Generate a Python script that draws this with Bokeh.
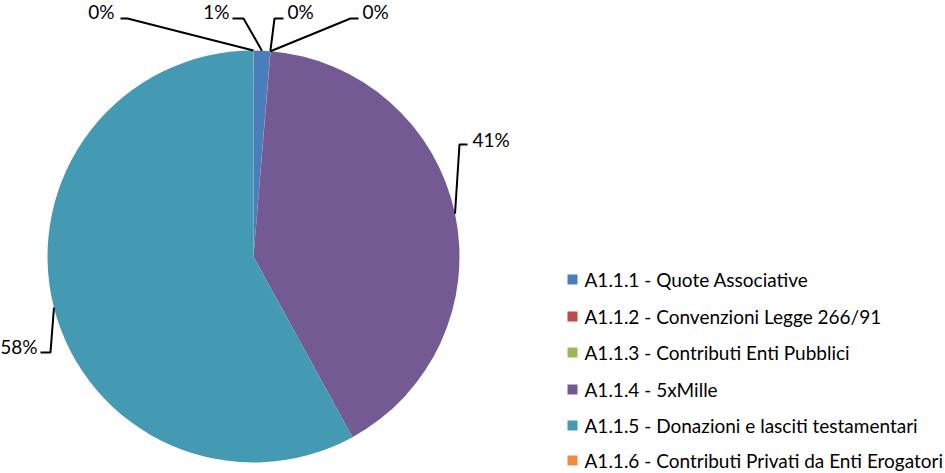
import math
from bokeh.plotting import figure
from bokeh.models import Range1d, ColumnDataSource
from bokeh.core.properties import value
from bokeh.embed import file_html
from bokeh.resources import INLINE

# ---- data ----
categories = [
    "A1.1.1 - Quote Associative",
    "A1.1.2 - Convenzioni Legge 266/91",
    "A1.1.3 - Contributi Enti Pubblici",
    "A1.1.4 - 5xMille",
    "A1.1.5 - Donazioni e lasciti testamentari",
    "A1.1.6 - Contributi Privati da Enti Erogatori",
]
values = [1.3, 0.01, 0.01, 40.7, 57.97, 0.01]
colors = ["#4a7ebb", "#be4b48", "#98b954", "#745a92", "#4499b3", "#f08c3f"]

# ---- layout / style (pixel coords, y measured from top) ----
W, H = 945, 473
CX, CY, R = 253, 256, 206
FONT = "Lato"
FS = "19px"
# per label: (elbow x, elbow y, end x, end y, text x, text y, align)
label_layout = [
    (243, 18, 232, 18, 229, 11, "right"),
    (274, 18, 283, 18, 287, 11, "left"),
    (350, 18, 358, 18, 362, 11, "left"),
    (459, 144, 467, 144, 472, 139, "left"),
    (50, 352, 40, 352, 37, 346, "right"),
    (127, 18, 120, 18, 114, 11, "right"),
]
legend_x, legend_text_x = 567, 584
legend_rows = [279, 316, 352, 389, 425, 460]
sq = 10

def fy(y):
    return H - y

p = figure(width=W, height=H, x_range=Range1d(0, W), y_range=Range1d(0, H),
           toolbar_location=None, output_backend="svg", min_border=0,
           x_axis_location=None, y_axis_location=None)
p.grid.visible = False
p.outline_line_color = None
p.background_fill_color = "white"
p.border_fill_color = "white"

total = sum(values)
cum = 0.0
starts, ends, cols = [], [], []
mids = []
for v, c in zip(values, colors):
    c0 = cum / total
    c1 = (cum + v) / total
    cum += v
    starts.append(math.pi / 2 - 2 * math.pi * c1)
    ends.append(math.pi / 2 - 2 * math.pi * c0)
    cols.append(c)
    mids.append(math.pi / 2 - 2 * math.pi * (c0 + c1) / 2)

src = ColumnDataSource(dict(x=[CX] * len(values), y=[fy(CY)] * len(values),
                            s=starts, e=ends, c=cols))
p.wedge(x="x", y="y", radius=R, start_angle="s", end_angle="e",
        fill_color="c", line_color=None, source=src)

# leader lines and labels
for v, m, lay in zip(values, mids, label_layout):
    ex, ey, tx_, ty_, lx, ly, al = lay
    sx = CX + R * math.cos(m)
    sy = fy(CY) + R * math.sin(m)
    p.line([sx, ex, tx_], [sy, fy(ey), fy(ty_)], line_color="black", line_width=2)
    pct = f"{round(v / total * 100)}%"
    p.text(x=[lx], y=[fy(ly)], text=[pct], text_font=value(FONT),
           text_font_size=FS, text_align=al, text_baseline="middle", text_color="black")

# legend
for cat, c, ry in zip(categories, colors, legend_rows):
    p.rect(x=[legend_x + sq / 2], y=[fy(ry)], width=sq, height=sq,
           fill_color=c, line_color=None)
    p.text(x=[legend_text_x], y=[fy(ry)], text=[cat], text_font=value(FONT),
           text_font_size=FS, text_align="left", text_baseline="middle", text_color="black")

open("out.html", "w").write(file_html(p, INLINE))
